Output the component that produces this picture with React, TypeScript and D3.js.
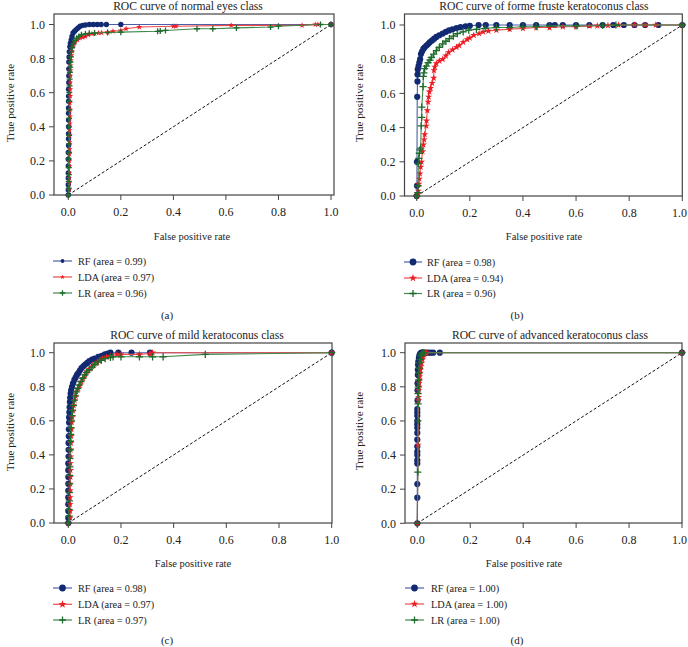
import React from "react";
import * as d3 from "d3";

type Pt = [number, number];

// ---------- DATA ----------
const xTicks = [0, 0.2, 0.4, 0.6, 0.8, 1.0];
const yTicks = [0, 0.2, 0.4, 0.6, 0.8, 1.0];
const panelTitles = [
  "ROC curve of normal eyes class",
  "ROC curve of forme fruste keratoconus class",
  "ROC curve of mild keratoconus class",
  "ROC curve of advanced keratoconus class",
];
const panelLetters = ["(a)", "(b)", "(c)", "(d)"];
const modelNames = ["RF", "LDA", "LR"];
const aucNormal = [0.99, 0.97, 0.96];
const aucForme = [0.98, 0.94, 0.96];
const aucMild = [0.98, 0.97, 0.97];
const aucAdvanced = [1.0, 1.0, 1.0];

const normalRF: Pt[] = [[0,0],[0,0.03],[0,0.06],[0,0.1],[0,0.13],[0,0.17],[0,0.21],[0,0.25],[0.001,0.29],[0.001,0.33],[0.001,0.36],[0.001,0.4],[0.001,0.44],[0.001,0.48],[0.001,0.51],[0.001,0.55],[0.001,0.58],[0.001,0.62],[0.002,0.66],[0.002,0.7],[0.002,0.74],[0.002,0.78],[0.003,0.81],[0.004,0.84],[0.006,0.87],[0.008,0.89],[0.011,0.91],[0.014,0.93],[0.018,0.95],[0.024,0.96],[0.03,0.97],[0.037,0.98],[0.045,0.99],[0.055,0.995],[0.065,0.997],[0.08,1.0],[0.095,1.0],[0.11,1.0],[0.125,1.0],[0.145,1.0],[0.2,1.0],[1,1]];
const normalLDA: Pt[] = [[0,0],[0.003,0.03],[0.003,0.07],[0.003,0.1],[0.004,0.13],[0.004,0.17],[0.004,0.2],[0.004,0.24],[0.005,0.27],[0.005,0.31],[0.005,0.35],[0.005,0.38],[0.006,0.42],[0.006,0.46],[0.006,0.5],[0.006,0.54],[0.007,0.58],[0.007,0.62],[0.007,0.66],[0.008,0.7],[0.008,0.73],[0.009,0.76],[0.01,0.79],[0.012,0.82],[0.014,0.845],[0.017,0.87],[0.021,0.885],[0.027,0.9],[0.035,0.91],[0.045,0.92],[0.055,0.925],[0.065,0.93],[0.076,0.94],[0.09,0.945],[0.1,0.948],[0.115,0.95],[0.127,0.952],[0.15,0.955],[0.17,0.96],[0.2,0.965],[0.22,0.975],[0.27,0.985],[0.4,0.99],[0.41,0.99],[0.62,0.995],[0.89,0.995],[0.94,1.0],[0.95,1.0],[1,1]];
const normalLR: Pt[] = [[0,0],[0.002,0.04],[0.002,0.08],[0.002,0.12],[0.002,0.16],[0.002,0.21],[0.003,0.25],[0.003,0.3],[0.003,0.35],[0.003,0.4],[0.003,0.45],[0.004,0.5],[0.004,0.55],[0.004,0.6],[0.005,0.64],[0.005,0.68],[0.006,0.72],[0.007,0.75],[0.008,0.78],[0.01,0.81],[0.012,0.84],[0.015,0.865],[0.019,0.885],[0.025,0.905],[0.032,0.92],[0.04,0.93],[0.05,0.94],[0.065,0.945],[0.08,0.948],[0.1,0.95],[0.15,0.953],[0.2,0.955],[0.34,0.96],[0.35,0.962],[0.37,0.965],[0.49,0.975],[0.55,0.975],[0.64,0.98],[0.77,0.985],[0.8,0.99],[0.96,1.0],[1,1]];

const formeRF: Pt[] = [[0,0],[0.001,0.06],[0.001,0.2],[0.002,0.58],[0.003,0.67],[0.003,0.71],[0.004,0.74],[0.007,0.76],[0.01,0.78],[0.013,0.8],[0.016,0.83],[0.02,0.845],[0.025,0.86],[0.03,0.87],[0.037,0.88],[0.044,0.89],[0.05,0.9],[0.058,0.91],[0.066,0.92],[0.074,0.93],[0.085,0.94],[0.098,0.95],[0.11,0.96],[0.122,0.968],[0.135,0.975],[0.15,0.982],[0.165,0.987],[0.184,0.992],[0.2,0.995],[0.233,1.0],[0.26,1.0],[0.3,1.0],[0.35,1.0],[0.4,1.0],[0.45,1.0],[0.5,1.0],[0.52,1.0],[0.55,1.0],[0.6,1.0],[0.65,1.0],[0.7,1.0],[0.74,1.0],[0.78,1.0],[0.82,1.0],[0.86,1.0],[0.91,1.0],[1,1]];
const formeLDA: Pt[] = [[0,0],[0.004,0.01],[0.006,0.03],[0.008,0.07],[0.01,0.1],[0.012,0.13],[0.015,0.17],[0.018,0.2],[0.022,0.26],[0.025,0.3],[0.028,0.33],[0.03,0.36],[0.036,0.41],[0.037,0.44],[0.04,0.5],[0.043,0.55],[0.045,0.58],[0.048,0.61],[0.052,0.63],[0.058,0.66],[0.064,0.69],[0.065,0.735],[0.068,0.755],[0.074,0.775],[0.085,0.79],[0.098,0.8],[0.11,0.82],[0.12,0.84],[0.135,0.855],[0.15,0.87],[0.16,0.88],[0.175,0.9],[0.19,0.915],[0.2,0.925],[0.215,0.94],[0.235,0.95],[0.25,0.96],[0.27,0.965],[0.3,0.97],[0.35,0.975],[0.4,0.98],[0.45,0.985],[0.5,0.985],[0.55,0.99],[0.6,0.99],[0.65,0.995],[0.68,0.995],[0.72,0.997],[0.76,1.0],[0.82,1.0],[0.86,1.0],[0.9,1.0],[1,1]];
const formeLR: Pt[] = [[0,0],[0.004,0.02],[0.005,0.06],[0.006,0.19],[0.008,0.22],[0.01,0.25],[0.012,0.27],[0.015,0.28],[0.017,0.41],[0.019,0.46],[0.019,0.52],[0.024,0.64],[0.025,0.7],[0.027,0.72],[0.03,0.745],[0.036,0.76],[0.043,0.78],[0.05,0.795],[0.055,0.81],[0.064,0.83],[0.074,0.85],[0.085,0.87],[0.098,0.89],[0.11,0.905],[0.123,0.92],[0.138,0.935],[0.153,0.95],[0.175,0.96],[0.196,0.97],[0.225,0.975],[0.258,0.98],[0.3,0.985],[0.35,0.985],[0.4,0.99],[0.45,0.99],[0.5,0.995],[0.6,0.995],[0.7,0.997],[0.75,1.0],[1,1]];

const mildRF: Pt[] = [[0,0],[0,0.03],[0,0.07],[0,0.11],[0,0.15],[0,0.19],[0,0.23],[0,0.27],[0,0.31],[0,0.35],[0.001,0.39],[0.001,0.43],[0.001,0.47],[0.002,0.51],[0.002,0.55],[0.003,0.59],[0.003,0.62],[0.004,0.65],[0.005,0.68],[0.006,0.71],[0.007,0.735],[0.009,0.76],[0.011,0.78],[0.014,0.8],[0.018,0.82],[0.023,0.84],[0.028,0.855],[0.033,0.87],[0.038,0.88],[0.044,0.895],[0.05,0.91],[0.057,0.92],[0.064,0.93],[0.072,0.94],[0.08,0.95],[0.09,0.96],[0.1,0.965],[0.114,0.975],[0.127,0.982],[0.139,0.99],[0.15,0.995],[0.16,1.0],[0.19,1.0],[0.24,1.0],[0.31,1.0],[1,1]];
const mildLDA: Pt[] = [[0,0],[0.007,0.03],[0.007,0.07],[0.006,0.11],[0.006,0.15],[0.007,0.19],[0.007,0.23],[0.008,0.27],[0.008,0.31],[0.008,0.35],[0.009,0.39],[0.009,0.43],[0.01,0.47],[0.011,0.51],[0.012,0.55],[0.013,0.59],[0.015,0.62],[0.018,0.66],[0.02,0.69],[0.024,0.72],[0.028,0.745],[0.03,0.77],[0.038,0.79],[0.043,0.81],[0.05,0.83],[0.056,0.85],[0.064,0.87],[0.07,0.89],[0.08,0.905],[0.09,0.92],[0.1,0.935],[0.11,0.945],[0.12,0.955],[0.13,0.965],[0.145,0.975],[0.16,0.98],[0.185,0.99],[0.2,0.99],[0.27,0.99],[0.31,0.995],[0.32,1.0],[1,1]];
const mildLR: Pt[] = [[0,0],[0.003,0.04],[0.003,0.08],[0.004,0.13],[0.004,0.18],[0.005,0.23],[0.005,0.28],[0.006,0.33],[0.006,0.38],[0.007,0.43],[0.008,0.48],[0.009,0.52],[0.01,0.56],[0.012,0.6],[0.014,0.63],[0.016,0.66],[0.019,0.69],[0.022,0.72],[0.026,0.745],[0.03,0.77],[0.036,0.79],[0.041,0.81],[0.048,0.83],[0.055,0.85],[0.063,0.87],[0.07,0.885],[0.08,0.9],[0.09,0.915],[0.1,0.93],[0.112,0.945],[0.125,0.955],[0.14,0.965],[0.16,0.972],[0.17,0.976],[0.2,0.976],[0.27,0.976],[0.32,0.976],[0.36,0.976],[0.52,0.99],[1,1]];

const advRF: Pt[] = [[0,0],[0,0.15],[0,0.23],[0,0.35],[0,0.37],[0,0.4],[0,0.42],[0,0.45],[0,0.49],[0,0.53],[0,0.56],[0,0.58],[0,0.6],[0,0.63],[0,0.65],[0,0.67],[0.001,0.72],[0.001,0.78],[0.001,0.82],[0.002,0.87],[0.002,0.9],[0.003,0.93],[0.004,0.95],[0.006,0.97],[0.008,0.985],[0.011,0.995],[0.015,1.0],[0.02,1.0],[0.03,1.0],[0.04,1.0],[0.05,1.0],[0.06,1.0],[0.085,1.0],[1,1]];
const advLDA: Pt[] = [[0,0],[0.003,0.46],[0.004,0.72],[0.005,0.74],[0.005,0.78],[0.006,0.8],[0.007,0.82],[0.008,0.84],[0.009,0.86],[0.01,0.88],[0.012,0.9],[0.014,0.92],[0.016,0.94],[0.019,0.96],[0.022,0.975],[0.026,0.99],[0.03,1.0],[0.035,1.0],[1,1]];
const advLR: Pt[] = [[0,0],[0.002,0.3],[0.002,0.6],[0.003,0.7],[0.003,0.76],[0.004,0.8],[0.005,0.84],[0.006,0.88],[0.007,0.91],[0.009,0.94],[0.011,0.96],[0.013,0.98],[0.016,0.99],[0.02,1.0],[0.025,1.0],[1,1]];

// ---------- LAYOUT / STYLE ----------
const FONT = "'Liberation Serif', 'Times New Roman', serif";
const TXT = "#222";
const FRAME = "#444";
const markerColors = ["#112a72", "#ec1c24", "#1d6a2a"];
const lineColors = ["#4d5fa8", "#ef4a4a", "#3e8a4a"];
const markerKinds = ["circle", "star", "plus"];

type Layout = {
  left: number; right: number; top: number; bottom: number;
  x0: number; x1: number; y0: number; y1: number;
  titleX: number; titleY: number; ylabX: number; ylabY: number;
  xlabX: number; xlabY: number; legL: number; legR: number; legText: number;
  legY: number[]; letterX: number; letterY: number; big: boolean;
};

const layouts: Layout[] = [
  { left: 54, right: 334, top: 14, bottom: 195, x0: 68.3, x1: 331, y0: 195, y1: 24.5,
    titleX: 188, titleY: 9.5, ylabX: 10, ylabY: 103, xlabX: 192, xlabY: 240,
    legL: 53, legR: 72, legText: 78, legY: [261, 277, 293], letterX: 167, letterY: 319, big: false },
  { left: 404.5, right: 682.3, top: 14, bottom: 196, x0: 416.7, x1: 682.3, y0: 196, y1: 25,
    titleX: 544, titleY: 9.5, ylabX: 359, ylabY: 103, xlabX: 544, xlabY: 240,
    legL: 404, legR: 422, legText: 427, legY: [262, 278, 293.5], letterX: 517, letterY: 319, big: true },
  { left: 54, right: 332, top: 343, bottom: 523, x0: 68.3, x1: 331.7, y0: 523, y1: 352.7,
    titleX: 197, titleY: 339, ylabX: 10, ylabY: 432, xlabX: 193, xlabY: 567,
    legL: 53, legR: 72, legText: 78, legY: [588, 604.3, 620], letterX: 167, letterY: 643.5, big: true },
  { left: 405, right: 682, top: 343, bottom: 523, x0: 417.3, x1: 682, y0: 523.3, y1: 352.7,
    titleX: 550, titleY: 339, ylabX: 359, ylabY: 431, xlabX: 524, xlabY: 567,
    legL: 405, legR: 424, legText: 431, legY: [588, 604, 620], letterX: 517, letterY: 643.5, big: true },
];

const panelCurves: Pt[][][] = [
  [normalRF, normalLDA, normalLR],
  [formeRF, formeLDA, formeLR],
  [mildRF, mildLDA, mildLR],
  [advRF, advLDA, advLR],
];
const panelAuc = [aucNormal, aucForme, aucMild, aucAdvanced];

function Marker({ kind, x, y, s, color }: { kind: string; x: number; y: number; s: number; color: string }) {
  if (kind === "plus") {
    return (
      <path d={`M${x - s},${y}H${x + s}M${x},${y - s}V${y + s}`} stroke={color} strokeWidth={1.3} fill="none" />
    );
  }
  const sym = kind === "circle" ? d3.symbolCircle : d3.symbolStar;
  const size = kind === "circle" ? Math.PI * s * s : (s * s) / 0.8908;
  const d = d3.symbol().type(sym).size(size)() || "";
  return <path d={d} transform={`translate(${x},${y})`} fill={color} />;
}

function Panel({ idx }: { idx: number }) {
  const L = layouts[idx];
  const x = d3.scaleLinear().domain([0, 1]).range([L.x0, L.x1]);
  const y = d3.scaleLinear().domain([0, 1]).range([L.y0, L.y1]);
  const line = d3.line<Pt>().x((d) => x(d[0])).y((d) => y(d[1]));
  const curves = panelCurves[idx];
  const auc = panelAuc[idx];
  const ms = L.big ? [3.1, 3.8, 3.6] : [2.7, 3.2, 3.0];
  const lms = L.big ? [3.4, 4.2, 3.5] : [1.9, 2.6, 2.8];
  return (
    <g>
      <text x={L.titleX} y={L.titleY} textAnchor="middle" fontSize={11.6} fill={TXT} fontFamily={FONT}>
        {panelTitles[idx]}
      </text>
      <rect x={L.left} y={L.top} width={L.right - L.left} height={L.bottom - L.top} fill="white" stroke={FRAME} strokeWidth={1.2} />
      {xTicks.map((t) => (
        <g key={"x" + t}>
          <line x1={x(t)} x2={x(t)} y1={L.bottom} y2={L.bottom + 5} stroke={FRAME} strokeWidth={1} />
          <text x={Math.min(x(t), 679.5)} y={L.bottom + 21} textAnchor="middle" fontSize={12} fill={TXT} fontFamily={FONT}>
            {d3.format(".1f")(t)}
          </text>
        </g>
      ))}
      {yTicks.map((t) => (
        <g key={"y" + t}>
          <line x1={L.left - 5} x2={L.left} y1={y(t)} y2={y(t)} stroke={FRAME} strokeWidth={1} />
          <text x={L.left - 9} y={y(t) + 4.2} textAnchor="end" fontSize={12} fill={TXT} fontFamily={FONT}>
            {d3.format(".1f")(t)}
          </text>
        </g>
      ))}
      <line x1={x(0)} y1={y(0)} x2={x(1)} y2={y(1)} stroke="#111" strokeWidth={1} strokeDasharray="3,2" />
      {curves.map((c, i) => (
        <g key={"c" + i}>
          <path d={line(c) || ""} fill="none" stroke={lineColors[i]} strokeWidth={1.1} />
          {c.map((p, j) => (
            <Marker key={j} kind={markerKinds[i]} x={x(p[0])} y={y(p[1])} s={ms[i]} color={markerColors[i]} />
          ))}
        </g>
      ))}
      <text
        transform={`translate(${L.ylabX},${L.ylabY}) rotate(-90)`}
        textAnchor="middle"
        dominantBaseline="central"
        fontSize={11.2}
        fill={TXT}
        fontFamily={FONT}
      >
        True positive rate
      </text>
      <text x={L.xlabX} y={L.xlabY} textAnchor="middle" fontSize={10.5} fill={TXT} fontFamily={FONT}>
        False positive rate
      </text>
      {modelNames.map((m, i) => (
        <g key={"l" + i}>
          <line x1={L.legL} x2={L.legR} y1={L.legY[i]} y2={L.legY[i]} stroke={lineColors[i]} strokeWidth={1.2} />
          <Marker kind={markerKinds[i]} x={(L.legL + L.legR) / 2} y={L.legY[i]} s={lms[i]} color={markerColors[i]} />
          <text x={L.legText} y={L.legY[i] + 3.6} fontSize={10.3} fill={TXT} fontFamily={FONT}>
            {`${m} (area = ${d3.format(".2f")(auc[i])})`}
          </text>
        </g>
      ))}
      <text x={L.letterX} y={L.letterY} textAnchor="middle" fontSize={11} fill={TXT} fontFamily={FONT}>
        {panelLetters[idx]}
      </text>
    </g>
  );
}

export default function App() {
  return (
    <svg
      width={688}
      height={647}
      style={{ position: "absolute", left: 0, top: 0, background: "white" }}
    >
      <rect width={688} height={647} fill="white" />
      {[0, 1, 2, 3].map((i) => (
        <Panel key={i} idx={i} />
      ))}
    </svg>
  );
}
